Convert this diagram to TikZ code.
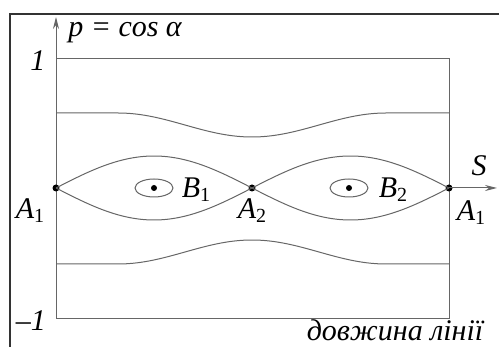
\documentclass[tikz,border=0pt]{standalone}
\usepackage{fontspec}
\setmainfont{Liberation Serif}
\usetikzlibrary{arrows.meta}
\newcommand{\mysub}[1]{\raisebox{-0.3ex}{\fontsize{20}{20}\selectfont\upshape #1}}
\begin{document}
\begin{tikzpicture}[x=1pt,y=-1pt,
  thinline/.style={draw=black!60,line width=1pt},
  frameline/.style={draw=black!80,line width=2.4pt},
  lbl/.style={font=\fontsize{30}{30}\selectfont\itshape,inner sep=0pt},
  pt/.style={circle,fill=black,inner sep=0pt,minimum size=7pt},
  ctr/.style={circle,fill=black,inner sep=0pt,minimum size=6pt}]
\useasboundingbox (0,0) rectangle (499,347);
% outer frame
\draw[frameline] (10,350) -- (10,14) -- (502,14);
% inner rectangle
\coordinate (tl) at (56,59);
\coordinate (tr) at (449,59);
\coordinate (bl) at (56,319);
\coordinate (br) at (449,319);
\coordinate (ytop) at (56,17);
\coordinate (xend) at (497,188);
\draw[thinline] (bl) -- (br) -- (tr) -- (tl);
\draw[thinline,-{Stealth[length=12pt,width=6pt]}] (bl) -- (ytop);
% points
\node[pt] (A1) at (56,188) {};
\node[pt] (A2) at (252,188) {};
\node[pt] (A3) at (449,188) {};
\node[ctr] (B1) at (154,188) {};
\node[ctr] (B2) at (349,188) {};
\draw[thinline,-{Stealth[length=12pt,width=6pt]}] (A3.center) -- (xend);
% outer trajectories
\draw[thinline] (56,113) -- (118,113)
  -- plot[domain=118:386,samples=80,variable=\t] ({\t},{113+12*(1-cos(360*((\t-118)/268)))})
  -- (449,113);
\draw[thinline] (56,264) -- (118,264)
  -- plot[domain=118:386,samples=80,variable=\t] ({\t},{264-12*(1-cos(360*((\t-118)/268)))})
  -- (449,264);
% separatrices
\draw[thinline] plot[domain=56:252,samples=80,variable=\t] ({\t},{188-32*sin(180*((\t-56)/196))});
\draw[thinline] plot[domain=56:252,samples=80,variable=\t] ({\t},{188+32*sin(180*((\t-56)/196))});
\draw[thinline] plot[domain=252:449,samples=80,variable=\t] ({\t},{188-32*sin(180*((\t-252)/197))});
\draw[thinline] plot[domain=252:449,samples=80,variable=\t] ({\t},{188+32*sin(180*((\t-252)/197))});
% small closed orbits
\draw[thinline] (B1) ellipse [x radius=19,y radius=9];
\draw[thinline] (B2) ellipse [x radius=19,y radius=9];
% labels
\node[lbl] (lp) at (125,33) {p = cos α};
\node[lbl] (l1) at (38,61) {1};
\node[lbl] (lm1) at (31,321) {–1};
\node[lbl] (lS) at (479,166) {S};
\node[lbl] (lA1) at (30,211) {A\mysub{1}};
\node[lbl] (lA2) at (252,211) {A\mysub{2}};
\node[lbl] (lA3) at (471,213) {A\mysub{1}};
\node[lbl] (lB1) at (196,190) {B\mysub{1}};
\node[lbl] (lB2) at (393,190) {B\mysub{2}};
\node[lbl] (ld) at (395,330) {довжина лінії};
\end{tikzpicture}
\end{document}
